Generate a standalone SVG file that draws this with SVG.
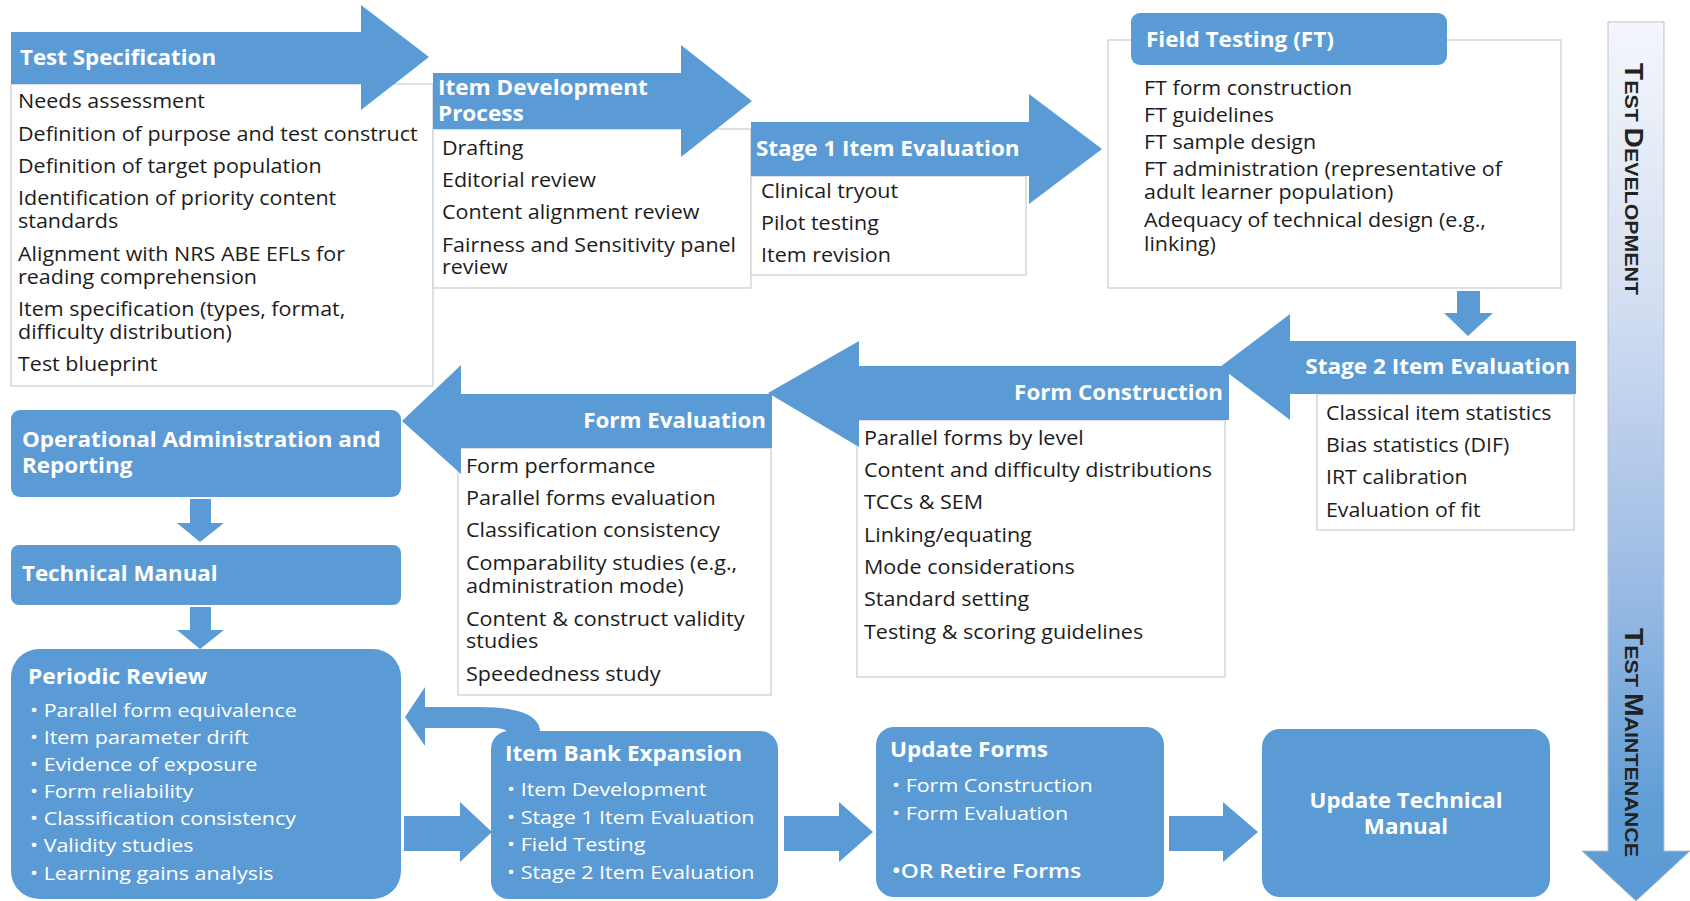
<svg xmlns="http://www.w3.org/2000/svg" width="1690" height="901" viewBox="0 0 1690 901">
<style>
.blue{fill:#5b9bd5}
.box{fill:#ffffff;stroke:#c9d2dc;stroke-width:1.3}
.t{font-family:"Open Sans","Liberation Sans",sans-serif;font-size:20px;fill:#1c1c1c}
.ft{font-family:"Open Sans","Liberation Sans",sans-serif;font-size:19.5px;fill:#1c1c1c}
.h{font-family:"Open Sans","Liberation Sans",sans-serif;font-size:20.5px;font-weight:700;fill:#ffffff}
.b{font-family:"Open Sans","Liberation Sans",sans-serif;font-size:19px;fill:#ffffff}
.end{text-anchor:end}
.side{font-family:"Liberation Sans","Open Sans",sans-serif;font-weight:700;fill:#222222}
</style>
<defs>
<linearGradient id="barGrad" x1="0" y1="22" x2="0" y2="901" gradientUnits="userSpaceOnUse">
<stop offset="0" stop-color="#f4f6fb"/>
<stop offset="0.3" stop-color="#d6e0f2"/>
<stop offset="0.62" stop-color="#9fbde5"/>
<stop offset="0.9" stop-color="#5f9dd6"/>
<stop offset="1" stop-color="#5b9bd5"/>
</linearGradient>
</defs>
<rect x="0" y="0" width="1690" height="901" fill="#ffffff"/>

<g id="phase-bar">
<path d="M1608,22 H1664 V851 H1690 L1636,901 L1582,851 H1608 Z" fill="url(#barGrad)" stroke="#b9c0ca" stroke-width="1"/>
<text class="side" transform="translate(1625,63) rotate(90)" textLength="232" lengthAdjust="spacingAndGlyphs"><tspan font-size="25">T</tspan><tspan font-size="19">EST </tspan><tspan font-size="25">D</tspan><tspan font-size="19">EVELOPMENT</tspan></text>
<text class="side" transform="translate(1625,628) rotate(90)" textLength="229" lengthAdjust="spacingAndGlyphs"><tspan font-size="25">T</tspan><tspan font-size="19">EST </tspan><tspan font-size="25">M</tspan><tspan font-size="19">AINTENANCE</tspan></text>
</g>

<g id="test-specification">
<rect class="box" x="11" y="84" width="422" height="302"/>
<path class="blue" d="M11,32 H361 V5 L429,57 L361,110 V84 H11 Z"/>
<text class="h" x="20" y="65" transform="matrix(1.09,0,0,1,-1.8,0)">Test Specification</text>
<g transform="matrix(1.075,0,0,1,-1.35,0)">
<text class="t" x="18" y="108">Needs assessment</text>
<text class="t" x="18" y="141">Definition of purpose and test construct</text>
<text class="t" x="18" y="173">Definition of target population</text>
<text class="t" x="18" y="205">Identification of priority content</text>
<text class="t" x="18" y="228">standards</text>
<text class="t" x="18" y="261">Alignment with NRS ABE EFLs for</text>
<text class="t" x="18" y="284">reading comprehension</text>
<text class="t" x="18" y="316">Item specification (types, format,</text>
<text class="t" x="18" y="339">difficulty distribution)</text>
<text class="t" x="18" y="371">Test blueprint</text>
</g>
</g>

<g id="item-development">
<rect class="box" x="433" y="129" width="318" height="159"/>
<path class="blue" d="M433,73 H681 V45 L752,101 L681,157 V129 H433 Z"/>
<g transform="matrix(1.1,0,0,1,-43.8,0)">
<text class="h" x="438" y="95">Item Development</text>
<text class="h" x="438" y="121">Process</text>
</g>
<g transform="matrix(1.075,0,0,1,-33.15,0)">
<text class="t" x="442" y="155">Drafting</text>
<text class="t" x="442" y="187">Editorial review</text>
<text class="t" x="442" y="219">Content alignment review</text>
<text class="t" x="442" y="252">Fairness and Sensitivity panel</text>
<text class="t" x="442" y="274">review</text>
</g>
</g>

<g id="stage1">
<rect class="box" x="751" y="176" width="275" height="99"/>
<path class="blue" d="M751,122 H1029 V94 L1102,149 L1029,204 V176 H751 Z"/>
<text class="h" x="756" y="156" transform="matrix(1.095,0,0,1,-71.82,0)">Stage 1 Item Evaluation</text>
<g transform="matrix(1.075,0,0,1,-57.08,0)">
<text class="t" x="761" y="198">Clinical tryout</text>
<text class="t" x="761" y="230">Pilot testing</text>
<text class="t" x="761" y="262">Item revision</text>
</g>
</g>

<g id="field-testing">
<rect class="box" x="1108" y="40" width="453" height="248"/>
<rect class="blue" x="1131" y="13" width="316" height="52" rx="9"/>
<text class="h" x="1146" y="47" transform="matrix(1.1,0,0,1,-114.6,0)">Field Testing (FT)</text>
<g transform="matrix(1.1,0,0,1,-114.4,0)">
<text class="ft" x="1144" y="95">FT form construction</text>
<text class="ft" x="1144" y="122">FT guidelines</text>
<text class="ft" x="1144" y="149">FT sample design</text>
<text class="ft" x="1144" y="176">FT administration (representative of</text>
<text class="ft" x="1144" y="199">adult learner population)</text>
<text class="ft" x="1144" y="227">Adequacy of technical design (e.g.,</text>
<text class="ft" x="1144" y="251">linking)</text>
</g>
</g>

<g id="form-construction">
<rect class="box" x="857" y="420" width="368" height="257"/>
<path class="blue" d="M1229,366 H859 V341 L768,393 L859,447 V420 H1229 Z"/>
<text class="h end" x="1223" y="400" transform="matrix(1.09,0,0,1,-110.07,0)">Form Construction</text>
<g transform="matrix(1.077,0,0,1,-66.53,0)">
<text class="t" x="864" y="445">Parallel forms by level</text>
<text class="t" x="864" y="477">Content and difficulty distributions</text>
<text class="t" x="864" y="509">TCCs &amp; SEM</text>
<text class="t" x="864" y="542">Linking/equating</text>
<text class="t" x="864" y="574">Mode considerations</text>
<text class="t" x="864" y="606">Standard setting</text>
<text class="t" x="864" y="639">Testing &amp; scoring guidelines</text>
</g>
</g>

<g id="stage2">
<rect class="box" x="1317" y="394" width="257" height="136"/>
<path class="blue" d="M1576,341 H1290 V314 L1220,367 L1290,420 V394 H1576 Z"/>
<text class="h end" x="1570" y="374" transform="matrix(1.1,0,0,1,-157,0)">Stage 2 Item Evaluation</text>
<g transform="matrix(1.066,0,0,1,-87.52,0)">
<text class="t" x="1326" y="420">Classical item statistics</text>
<text class="t" x="1326" y="452">Bias statistics (DIF)</text>
<text class="t" x="1326" y="484">IRT calibration</text>
<text class="t" x="1326" y="517">Evaluation of fit</text>
</g>
</g>

<g id="form-evaluation">
<rect class="box" x="458" y="448" width="313" height="247"/>
<path class="blue" d="M772,394 H461 V365 L402,421 L461,474 V448 H772 Z"/>
<text class="h end" x="766" y="428" transform="matrix(1.09,0,0,1,-68.94,0)">Form Evaluation</text>
<g transform="matrix(1.08,0,0,1,-37.28,0)">
<text class="t" x="466" y="473">Form performance</text>
<text class="t" x="466" y="505">Parallel forms evaluation</text>
<text class="t" x="466" y="537">Classification consistency</text>
<text class="t" x="466" y="570">Comparability studies (e.g.,</text>
<text class="t" x="466" y="593">administration mode)</text>
<text class="t" x="466" y="626">Content &amp; construct validity</text>
<text class="t" x="466" y="648">studies</text>
<text class="t" x="466" y="681">Speededness study</text>
</g>
</g>

<g id="operational-administration">
<rect class="blue" x="11" y="410" width="390" height="87" rx="9"/>
<g transform="matrix(1.095,0,0,1,-2.09,0)">
<text class="h" x="22" y="447">Operational Administration and</text>
<text class="h" x="22" y="473">Reporting</text>
</g>
</g>

<g id="technical-manual">
<rect class="blue" x="11" y="545" width="390" height="60" rx="8"/>
<text class="h" x="22" y="581" transform="matrix(1.09,0,0,1,-1.98,0)">Technical Manual</text>
</g>

<g id="periodic-review">
<rect class="blue" x="11" y="649" width="390" height="250" rx="28"/>
<text class="h" x="28" y="684" transform="matrix(1.11,0,0,1,-3.08,0)">Periodic Review</text>
<g transform="matrix(1.13,0,0,1,-3.9,0)">
<text class="b" x="30" y="717">• Parallel form equivalence</text>
<text class="b" x="30" y="744">• Item parameter drift</text>
<text class="b" x="30" y="771">• Evidence of exposure</text>
<text class="b" x="30" y="798">• Form reliability</text>
<text class="b" x="30" y="825">• Classification consistency</text>
<text class="b" x="30" y="852">• Validity studies</text>
<text class="b" x="30" y="880">• Learning gains analysis</text>
</g>
</g>

<g id="item-bank-expansion">
<rect class="blue" x="491" y="731" width="287" height="168" rx="18"/>
<text class="h" x="505" y="761" transform="matrix(1.1,0,0,1,-50.5,0)">Item Bank Expansion</text>
<g transform="matrix(1.13,0,0,1,-65.91,0)">
<text class="b" x="507" y="796">• Item Development</text>
<text class="b" x="507" y="824">• Stage 1 Item Evaluation</text>
<text class="b" x="507" y="851">• Field Testing</text>
<text class="b" x="507" y="879">• Stage 2 Item Evaluation</text>
</g>
</g>

<g id="update-forms">
<rect class="blue" x="876" y="727" width="288" height="170" rx="18"/>
<text class="h" x="890" y="757" transform="matrix(1.1,0,0,1,-89,0)">Update Forms</text>
<g transform="matrix(1.13,0,0,1,-115.96,0)">
<text class="b" x="892" y="792">• Form Construction</text>
<text class="b" x="892" y="820">• Form Evaluation</text>
</g>
<text class="b" x="892" y="878" font-size="23.5" font-weight="600" transform="matrix(1.21,0,0,1,-187.32,0)">•OR Retire Forms</text>
</g>

<g id="update-technical-manual">
<rect class="blue" x="1262" y="729" width="288" height="168" rx="18"/>
<g transform="matrix(1.09,0,0,1,-126.54,0)">
<text class="h" x="1406" y="808" text-anchor="middle">Update Technical</text>
<text class="h" x="1406" y="834" text-anchor="middle">Manual</text>
</g>
</g>

<g id="connectors">
<path class="blue" d="M1457,291 H1480 V313 H1493 L1468,336 L1444,313 H1457 Z"/>
<path class="blue" d="M190,499 H211 V523 H224 L200,542 L177,523 H190 Z"/>
<path class="blue" d="M190,607 H211 V630 H224 L200,649 L177,630 H190 Z"/>
<path class="blue" d="M405,717 L425,687 L425,707 L478,707 Q540,707 540,732 L508,732 Q504,728 494,728 L425,728 L425,746 Z"/>
<path class="blue" d="M404,816 H460 V802 L492,832 L460,862 V851 H404 Z"/>
<path class="blue" d="M784,816 H839 V802 L873,832 L839,862 V851 H784 Z"/>
<path class="blue" d="M1169,816 H1223 V802 L1258,832 L1223,862 V851 H1169 Z"/>
</g>
</svg>
